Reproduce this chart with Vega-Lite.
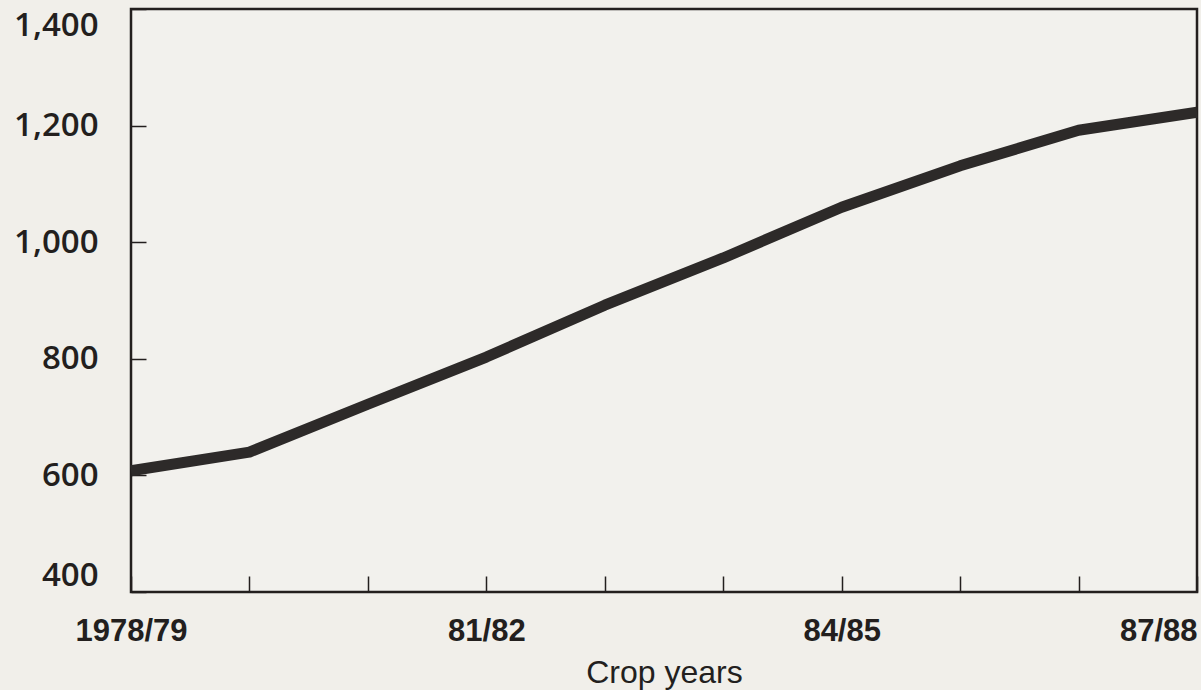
{
  "$schema": "https://vega.github.io/schema/vega-lite/v6.json",
  "width": 1066,
  "height": 583,
  "autosize": {"type": "none"},
  "padding": {"left": 131, "top": 9, "right": 4, "bottom": 98},
  "background": "#f1efea",
  "config": {
    "view": {"stroke": "#231f1e", "strokeWidth": 2.5, "fill": "#f2f1ed"},
    "font": "Liberation Sans"
  },
  "data": {
    "values": [
      {"year": "1978/79", "value": 608},
      {"year": "79/80", "value": 640},
      {"year": "80/81", "value": 722},
      {"year": "81/82", "value": 803},
      {"year": "82/83", "value": 892},
      {"year": "83/84", "value": 973},
      {"year": "84/85", "value": 1060},
      {"year": "85/86", "value": 1131},
      {"year": "86/87", "value": 1192},
      {"year": "87/88", "value": 1223}
    ]
  },
  "mark": {"type": "line", "color": "#2d2a29", "strokeWidth": 11, "strokeJoin": "round", "strokeCap": "butt"},
  "encoding": {
    "x": {
      "field": "year",
      "type": "ordinal",
      "sort": null,
      "scale": {"type": "point", "padding": 0},
      "axis": {
        "title": "Crop  years",
        "titleFont": "Liberation Sans",
        "titleFontSize": 32,
        "titleFontWeight": "normal",
        "titleColor": "#231f1e",
        "titlePadding": 11,
        "labelAngle": 0,
        "labelFontSize": 31,
        "labelFontWeight": "bold",
        "labelColor": "#231f1e",
        "labelPadding": 40,
        "labelExpr": "indexof(['1978/79','81/82','84/85','87/88'], datum.value) >= 0 ? datum.value : ''",
        "labelAlign": {"condition": {"test": "datum.value === '87/88'", "value": "right"}, "value": "center"},
        "domain": false,
        "tickSize": -16,
        "tickColor": "#231f1e",
        "tickWidth": 1.5,
        "grid": false
      }
    },
    "y": {
      "field": "value",
      "type": "quantitative",
      "scale": {"domain": [400, 1400], "nice": false},
      "axis": {
        "title": null,
        "values": [400, 600, 800, 1000, 1200, 1400],
        "format": ",d",
        "labelFont": "Open Sans",
        "labelFontSize": 33,
        "labelFontWeight": 600,
        "labelColor": "#231f1e",
        "labelPadding": 48,
        "labelFlush": true,
        "domain": false,
        "tickSize": -15,
        "tickColor": "#231f1e",
        "tickWidth": 1.5,
        "grid": false
      }
    }
  }
}
